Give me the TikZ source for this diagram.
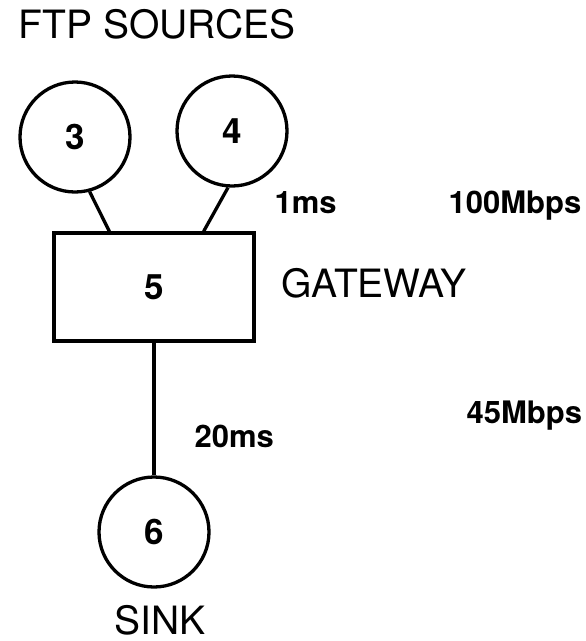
\documentclass[tikz,border=0pt]{standalone}
\usepackage{fontspec}
\setmainfont{TeX Gyre Heros}
\usetikzlibrary{positioning}

\begin{document}
\begin{tikzpicture}[x=1pt, y=-1pt, node distance=150pt, on grid, line width=3.3pt,
station/.style={circle, draw, minimum size=110pt, inner sep=0pt, font=\bfseries\fontsize{35}{40}\selectfont},
router/.style={rectangle, draw, minimum width=200pt, minimum height=108pt, inner sep=0pt, font=\bfseries\fontsize{35}{40}\selectfont},
caption/.style={anchor=base west, inner sep=0pt, font=\fontsize{39}{44}\selectfont},
linkinfo/.style={anchor=base west, inner sep=0pt, font=\bfseries\fontsize{31}{36}\selectfont}]
  \useasboundingbox (0,0) rectangle (586,641);
  \node[router] (GW) at (154,287) {5};
  \node[station] (SRC3) [above left=150pt and 79pt of GW] {3};
  \node[station] (SRC4) [above right=156pt and 78pt of GW] {4};
  \node[station] (SNK6) [below=245pt of GW] {6};
  % texts
  \node[caption] (FTP) at (17,38) {FTP SOURCES};
  \node[caption] (GWNAME) at (280,297) {GATEWAY};
  \node[caption, anchor=base] (SINK) at (160,634) {SINK};
  \node[linkinfo] (D1) at (273,213) {1ms};
  \node[linkinfo] (R1) at (447,213) {100Mbps};
  \node[linkinfo] (D2) at (193,447) {20ms};
  \node[linkinfo] (R2) at (465,423) {45Mbps};
  % links
  \draw (SRC3.-75) -- ([xshift=57pt]GW.north west);
  \draw (SRC4.-94) -- ([xshift=-52pt]GW.north east);
  \draw (GW.south) -- (SNK6.north);
\end{tikzpicture}
\end{document}
